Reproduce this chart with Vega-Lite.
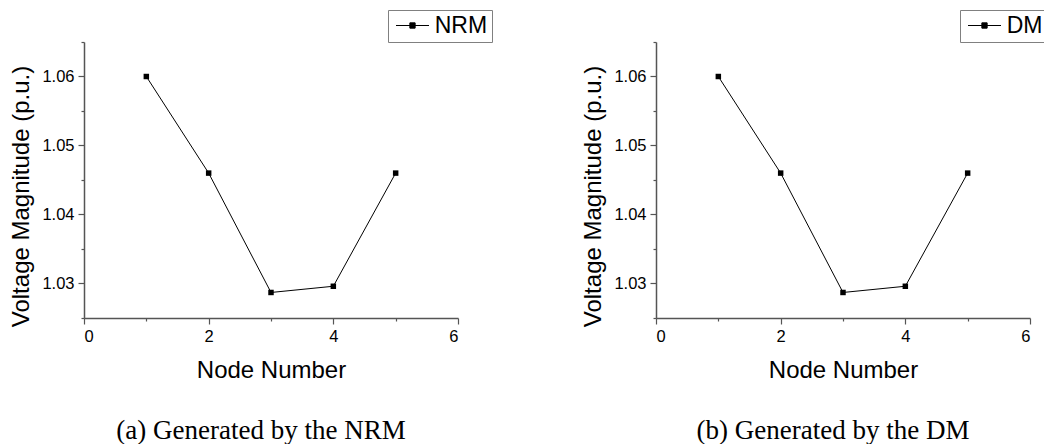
{
  "$schema": "https://vega.github.io/schema/vega-lite/v6.json",
  "padding": {"left": 9, "top": 9, "right": 0, "bottom": 0},
  "background": "white",
  "datasets": {
    "volt": [
      {"method": "NRM", "node": 1, "v": 1.06},
      {"method": "NRM", "node": 2, "v": 1.046},
      {"method": "NRM", "node": 3, "v": 1.0287},
      {"method": "NRM", "node": 4, "v": 1.0296},
      {"method": "NRM", "node": 5, "v": 1.046},
      {"method": "DM", "node": 1, "v": 1.06},
      {"method": "DM", "node": 2, "v": 1.046},
      {"method": "DM", "node": 3, "v": 1.0287},
      {"method": "DM", "node": 4, "v": 1.0296},
      {"method": "DM", "node": 5, "v": 1.046}
    ]
  },
  "data": {"name": "volt"},
  "spacing": 88,
  "resolve": {"scale": {"color": "independent"}, "legend": {"color": "independent"}},
  "config": {
    "view": {"stroke": null},
    "font": "Liberation Sans",
    "axis": {
      "grid": false,
      "domainColor": "#555555",
      "domainWidth": 1.5,
      "tickColor": "#555555",
      "tickWidth": 1.2,
      "labelFont": "Liberation Sans",
      "labelFontSize": 16.5,
      "labelColor": "black",
      "titleFont": "Liberation Sans",
      "titleFontSize": 24,
      "titleFontWeight": "normal",
      "titleColor": "black"
    },
    "legend": {
      "title": null,
      "strokeColor": "#808080",
      "fillColor": "white",
      "padding": 4,
      "symbolType": "M-1.5,0H1.5M-0.24,-0.24H0.24V0.24H-0.24Z",
      "symbolSize": 484,
      "symbolStrokeWidth": 1,
      "symbolFillColor": "black",
      "symbolStrokeColor": "black",
      "labelFont": "Liberation Sans",
      "labelFontSize": 23,
      "labelColor": "black",
      "labelOffset": 10.7,
      "symbolOffset": 9
    },
    "title": {
      "font": "Liberation Serif",
      "fontSize": 27,
      "fontWeight": "normal",
      "color": "black",
      "anchor": "middle",
      "offset": 35
    }
  },
  "hconcat": [
    {
      "width": 374,
      "height": 276,
      "transform": [{"filter": "datum.method == 'NRM'"}],
      "title": {"text": "(a) Generated by the NRM", "orient": "bottom", "dx": -10},
      "encoding": {
        "x": {
          "field": "node", "type": "quantitative",
          "scale": {"domain": [0, 6], "nice": false, "zero": false},
          "axis": {
            "title": "Node Number",
            "values": [0, 1, 2, 3, 4, 5, 6],
            "labelExpr": "datum.value % 2 == 0 ? datum.label : ''",
            "tickSize": {"condition": {"test": "datum.value % 2 == 0", "value": 6}, "value": 3},
            "labelPadding": 4,
            "titlePadding": 14
          }
        },
        "y": {
          "field": "v", "type": "quantitative",
          "scale": {"domain": [1.025, 1.065], "nice": false, "zero": false},
          "axis": {
            "title": "Voltage Magnitude (p.u.)",
            "values": [1.025, 1.03, 1.035, 1.04, 1.045, 1.05, 1.055, 1.06, 1.065],
            "labelExpr": "round(datum.value*1000) % 10 == 0 ? format(datum.value, '.2f') : ''",
            "tickSize": {"condition": {"test": "round(datum.value*1000) % 10 == 0", "value": 6}, "value": 3},
            "labelPadding": 4,
            "titlePadding": 8,
            "titleY": 154
          }
        },
        "color": {
          "field": "method", "type": "nominal",
          "scale": {"range": ["black"]},
          "legend": {
            "orient": "none", "legendX": 304, "legendY": -32,
            "encode": {"symbols": {"update": {"fill": {"value": "black"}, "stroke": {"value": "black"}, "strokeWidth": {"value": 1}}}}
          }
        }
      },
      "layer": [
        {"mark": {"type": "line", "strokeWidth": 1, "color": "black"}},
        {"mark": {"type": "point", "shape": "square", "filled": true, "size": 30, "opacity": 1, "color": "black"}}
      ]
    },
    {
      "width": 374,
      "height": 276,
      "transform": [{"filter": "datum.method == 'DM'"}],
      "title": {"text": "(b) Generated by the DM", "orient": "bottom", "dx": -10},
      "encoding": {
        "x": {
          "field": "node", "type": "quantitative",
          "scale": {"domain": [0, 6], "nice": false, "zero": false},
          "axis": {
            "title": "Node Number",
            "values": [0, 1, 2, 3, 4, 5, 6],
            "labelExpr": "datum.value % 2 == 0 ? datum.label : ''",
            "tickSize": {"condition": {"test": "datum.value % 2 == 0", "value": 6}, "value": 3},
            "labelPadding": 4,
            "titlePadding": 14
          }
        },
        "y": {
          "field": "v", "type": "quantitative",
          "scale": {"domain": [1.025, 1.065], "nice": false, "zero": false},
          "axis": {
            "title": "Voltage Magnitude (p.u.)",
            "values": [1.025, 1.03, 1.035, 1.04, 1.045, 1.05, 1.055, 1.06, 1.065],
            "labelExpr": "round(datum.value*1000) % 10 == 0 ? format(datum.value, '.2f') : ''",
            "tickSize": {"condition": {"test": "round(datum.value*1000) % 10 == 0", "value": 6}, "value": 3},
            "labelPadding": 4,
            "titlePadding": 8,
            "titleY": 154
          }
        },
        "color": {
          "field": "method", "type": "nominal",
          "scale": {"range": ["black"]},
          "legend": {
            "orient": "none", "legendX": 304, "legendY": -32,
            "encode": {"symbols": {"update": {"fill": {"value": "black"}, "stroke": {"value": "black"}, "strokeWidth": {"value": 1}}}}
          }
        }
      },
      "layer": [
        {"mark": {"type": "line", "strokeWidth": 1, "color": "black"}},
        {"mark": {"type": "point", "shape": "square", "filled": true, "size": 30, "opacity": 1, "color": "black"}}
      ]
    }
  ]
}
